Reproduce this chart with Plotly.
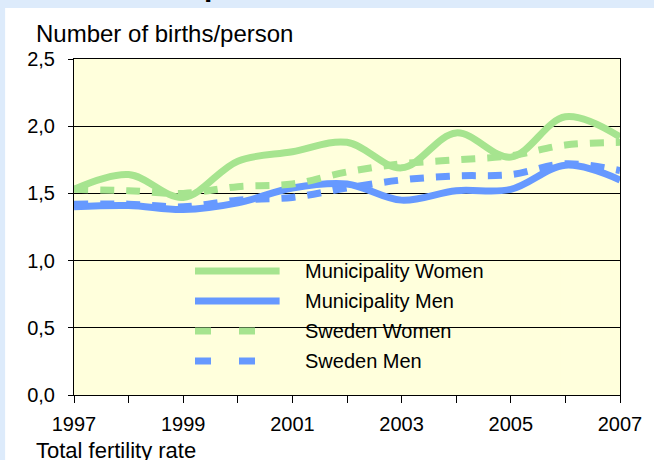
import plotly.graph_objects as go

years = [1997, 1998, 1999, 2000, 2001, 2002, 2003, 2004, 2005, 2006, 2007]
mun_women = [1.53, 1.64, 1.47, 1.74, 1.81, 1.88, 1.69, 1.95, 1.77, 2.07, 1.92]
mun_men = [1.40, 1.41, 1.38, 1.43, 1.54, 1.57, 1.45, 1.52, 1.53, 1.71, 1.60]
swe_women = [1.53, 1.52, 1.50, 1.55, 1.57, 1.66, 1.72, 1.75, 1.78, 1.86, 1.88]
swe_men = [1.42, 1.42, 1.40, 1.45, 1.47, 1.54, 1.60, 1.63, 1.64, 1.72, 1.67]

series_names = ["Municipality Women", "Municipality Men", "Sweden Women", "Sweden Men"]
x_tick_labels = ["1997", "1999", "2001", "2003", "2005", "2007"]
y_title = "Number of births/person"
x_title = "Total fertility rate"
title_fragment = "p"

GREEN = "#A6E48F"
BLUE = "#6699FF"
PLOT_BG = "#FFFFDC"
BAND = "#DDEBFB"
FONT = "Liberation Sans, Arial, sans-serif"

W, H = 654, 460
L, R, T, B = 74, 25, 59, 65
PW = W - L - R
PH = H - T - B


def px(xp):
    return (xp - L) / PW


def py(yp):
    return (H - B - yp) / PH


fig = go.Figure()
styles = [
    (mun_women, GREEN, "solid"),
    (mun_men, BLUE, "solid"),
    (swe_women, GREEN, "14px,12px"),
    (swe_men, BLUE, "14px,12px"),
]
for name, (vals, col, dash) in zip(series_names, styles):
    fig.add_trace(go.Scatter(
        x=years, y=vals, name=name, mode="lines",
        line=dict(color=col, width=7, dash=dash, shape="spline", smoothing=1.0),
        showlegend=False, hoverinfo="skip",
    ))

shapes = []
# outer light-blue frame pieces
shapes.append(dict(type="rect", xref="paper", yref="paper", x0=-0.3, x1=1.3,
                   y0=py(8), y1=py(-20), fillcolor=BAND, line_width=0, layer="below"))
shapes.append(dict(type="rect", xref="paper", yref="paper", x0=-0.3, x1=px(4),
                   y0=-0.5, y1=1.5, fillcolor=BAND, line_width=0, layer="below"))
# legend background covering gridlines
shapes.append(dict(type="rect", xref="paper", yref="paper", x0=px(128), x1=px(569),
                   y0=py(390), y1=py(246), fillcolor=PLOT_BG, line_width=0, layer="between"))

leg_rows = [271, 301, 331, 361]
leg_dash = ["solid", "solid", "16px,28px", "16px,28px"]
leg_cols = [GREEN, BLUE, GREEN, BLUE]
annotations = []
for name, yrow, d, c in zip(series_names, leg_rows, leg_dash, leg_cols):
    shapes.append(dict(type="line", xref="paper", yref="paper",
                       x0=px(197), x1=px(283) if d == "solid" else px(262),
                       y0=py(yrow), y1=py(yrow),
                       line=dict(color=c, width=7, dash=d), layer="above"))
    annotations.append(dict(text=name, xref="paper", yref="paper", x=px(307), y=py(yrow),
                            xanchor="left", yanchor="middle", showarrow=False,
                            font=dict(size=20, color="black", family=FONT)))

annotations.append(dict(text=y_title, xref="paper", yref="paper", x=px(33), y=py(33),
                        xanchor="left", yanchor="middle", showarrow=False,
                        font=dict(size=24, color="black", family=FONT)))
annotations.append(dict(text=x_title, xref="paper", yref="paper", x=px(33), y=py(450),
                        xanchor="left", yanchor="middle", showarrow=False,
                        font=dict(size=22, color="black", family=FONT)))
annotations.append(dict(text="<b>" + title_fragment + "</b>", xref="paper", yref="paper",
                        x=px(204), y=py(4), xanchor="left", yanchor="bottom",
                        showarrow=False,
                        font=dict(size=30, color="black", family=FONT)))

fig.update_layout(
    width=W, height=H,
    margin=dict(l=L, r=R, t=T, b=B),
    paper_bgcolor="white",
    plot_bgcolor=PLOT_BG,
    separators=", ",
    font=dict(family=FONT, size=20, color="black"),
    shapes=shapes,
    annotations=annotations,
    showlegend=False,
)
fig.update_xaxes(
    range=[1997, 2007],
    tickvals=[int(t) for t in x_tick_labels], ticktext=x_tick_labels,
    ticks="outside", ticklen=7, tickcolor="black", tickwidth=1,
    minor=dict(tickvals=years, ticks="outside", ticklen=7, tickcolor="black", showgrid=False),
    showgrid=False, zeroline=False,
    showline=True, linecolor="black", linewidth=1, mirror=True,
    ticklabelstandoff=4,
    tickfont=dict(size=20, color="black"),
)
fig.update_yaxes(
    range=[0, 2.5],
    tickvals=[0, 0.5, 1.0, 1.5, 2.0, 2.5], tickformat=".1f",
    ticks="outside", ticklen=5, tickcolor="black", tickwidth=1,
    showgrid=True, gridcolor="black", gridwidth=1,
    zeroline=False,
    showline=True, linecolor="black", linewidth=1, mirror=True,
    ticklabelstandoff=9,
    tickfont=dict(size=20, color="black"),
)

fig.write_html("out.html", config={"displayModeBar": False},
               post_script="document.body.style.margin='0px';")
